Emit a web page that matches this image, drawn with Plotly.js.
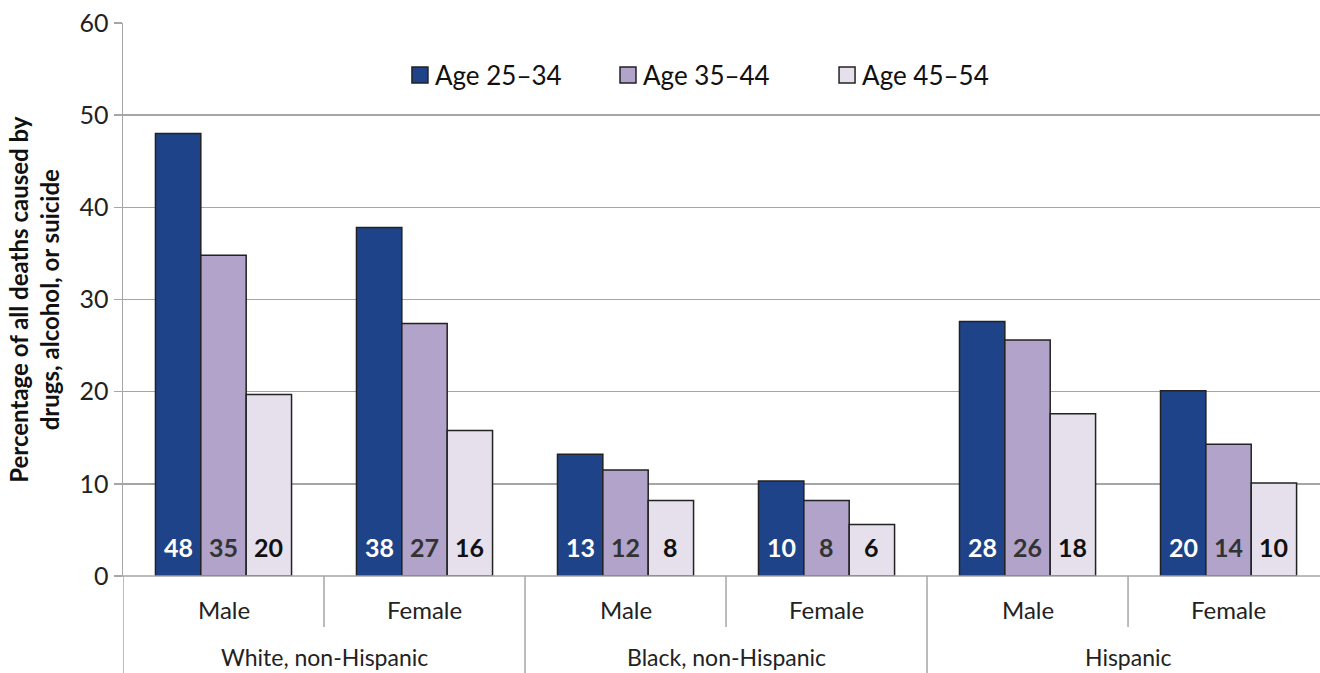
<!DOCTYPE html>
<html><head><meta charset="utf-8">
<script src="https://cdn.plot.ly/plotly-3.0.1.min.js"></script>
<style>html,body{margin:0;padding:0;background:#fff}#chart{width:1320px;height:673px}</style>
</head><body><div id="chart"></div>
<script>
const categories = ["White Male","White Female","Black Male","Black Female","Hispanic Male","Hispanic Female"];
const sexLabels = ["Male","Female","Male","Female","Male","Female"];
const raceLabels = ["White, non-Hispanic","Black, non-Hispanic","Hispanic"];
const seriesNames = ["Age 25\u201334","Age 35\u201344","Age 45\u201354"];
const age2534 = [48.0, 37.8, 13.2, 10.3, 27.6, 20.1];
const age3544 = [34.8, 27.4, 11.5, 8.2, 25.6, 14.3];
const age4554 = [19.7, 15.8, 8.2, 5.6, 17.6, 10.1];
const labels2534 = ["48","38","13","10","28","20"];
const labels3544 = ["35","27","12","8","26","14"];
const labels4554 = ["20","16","8","6","18","10"];

const FONT = "Lato, 'Open Sans', sans-serif";
const colors = ["#1F4388","#B1A3C9","#E5E0EC"];
const textColors = ["#FFFFFF","#333333","#111111"];
const vals = [age2534, age3544, age4554];
const labs = [labels2534, labels3544, labels4554];
const legendIds = ["legend","legend2","legend3"];

const data = vals.map((v,i)=>({
  type:"bar", name:seriesNames[i], x:categories, y:v, legend:legendIds[i],
  marker:{color:colors[i], line:{color:"#222", width:1.5}},
  hoverinfo:"skip"
}));

const annotations = [];
const barPx = 45.4;
labs.forEach((arr,i)=>arr.forEach((t,j)=>annotations.push({
  x:categories[j], xref:"x", xshift:(i-1)*barPx, y:0, yref:"y", yanchor:"bottom", yshift:12,
  text:"<b>"+t+"</b>", showarrow:false, font:{family:FONT, size:25, color:textColors[i]}
})));
categories.forEach((c,i)=>annotations.push({x:c, xref:"x", y:-0.06, yref:"paper", yanchor:"middle",
  text:sexLabels[i], showarrow:false, font:{family:FONT, size:24, color:"#222"}}));
raceLabels.forEach((r,k)=>annotations.push({x:2*k+0.5, xref:"x", y:-0.146, yref:"paper", yanchor:"middle",
  text:r, showarrow:false, font:{family:FONT, size:23, color:"#222"}}));
annotations.push({x:-0.1017, xref:"paper", xanchor:"left", y:0.5, yref:"paper", textangle:-90, showarrow:false,
  text:"<b>Percentage of all deaths caused by<br>drugs, alcohol, or suicide</b>", font:{family:FONT, size:24, color:"#111"}});

const shapes = [];
for(let k=0;k<3;k++){
  shapes.push({type:"line", xref:"x", yref:"paper", x0:2*k-0.5, x1:2*k-0.5, y0:0, y1:-0.176, line:{color:"#A6A6A6", width:1.5}});
  shapes.push({type:"line", xref:"x", yref:"paper", x0:2*k+0.5, x1:2*k+0.5, y0:0, y1:-0.092, line:{color:"#A6A6A6", width:1.5}});
}
shapes.push({type:"line", xref:"paper", yref:"paper", x0:-0.007, x1:1, y0:0, y1:0, line:{color:"#A6A6A6", width:1.5}});

const legendX = [0.2272, 0.4010, 0.5840];
const legendBase = {orientation:"h", xanchor:"left", y:0.906, yanchor:"middle", bgcolor:"rgba(0,0,0,0)",
  font:{family:FONT, size:26, color:"#111"}, itemwidth:30};

const layout = {
  width:1320, height:673, margin:{l:123, r:0, t:23, b:97},
  paper_bgcolor:"#fff", plot_bgcolor:"#fff",
  font:{family:FONT, color:"#222"},
  barmode:"group", bargap:0.323, bargroupgap:0,
  xaxis:{type:"category", range:[-0.5,5.455], showticklabels:false, showgrid:false, zeroline:false, showline:false, ticks:""},
  yaxis:{range:[0,60], dtick:10, showgrid:true, gridcolor:"#A6A6A6", gridwidth:1.5, zeroline:false,
    showline:true, linecolor:"#A6A6A6", linewidth:1.5, ticks:"outside", ticklen:8, tickcolor:"#A6A6A6", tickwidth:1.5,
    tickfont:{family:FONT, size:25, color:"#222"}},
  showlegend:true,
  legend:Object.assign({}, legendBase, {x:legendX[0]}),
  legend2:Object.assign({}, legendBase, {x:legendX[1]}),
  legend3:Object.assign({}, legendBase, {x:legendX[2]}),
  annotations, shapes
};
Plotly.newPlot("chart", data, layout, {staticPlot:true, displayModeBar:false}).then(()=>{
  document.querySelectorAll("#chart .legendpoints path").forEach(p=>{
    p.setAttribute("d","M13,8H-3V-8H13Z");
  });
});
</script></body></html>
